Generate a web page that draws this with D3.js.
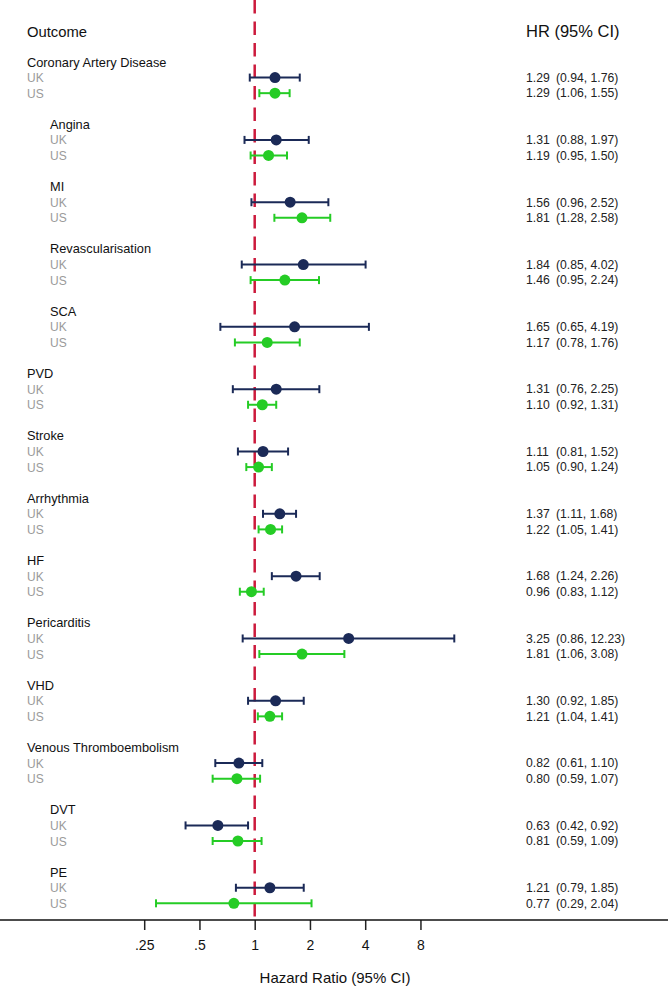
<!DOCTYPE html>
<html>
<head>
<meta charset="utf-8">
<script src="https://cdn.jsdelivr.net/npm/d3@7"></script>
<style>
html,body{margin:0;padding:0;background:#fff;}
svg{display:block;font-family:"Liberation Sans",Arial,sans-serif;}
</style>
</head>
<body>
<svg id="chart" width="669" height="989"></svg>
<script>
const outcomes = ["Coronary Artery Disease","Angina","MI","Revascularisation","SCA","PVD","Stroke","Arrhythmia","HF","Pericarditis","VHD","Venous Thromboembolism","DVT","PE"];
const indented = [false,true,true,true,true,false,false,false,false,false,false,false,true,true];
const ukHR  = [1.29,1.31,1.56,1.84,1.65,1.31,1.11,1.37,1.68,3.25,1.30,0.82,0.63,1.21];
const ukLo  = [0.94,0.88,0.96,0.85,0.65,0.76,0.81,1.11,1.24,0.86,0.92,0.61,0.42,0.79];
const ukHi  = [1.76,1.97,2.52,4.02,4.19,2.25,1.52,1.68,2.26,12.23,1.85,1.10,0.92,1.85];
const usHR  = [1.29,1.19,1.81,1.46,1.17,1.10,1.05,1.22,0.96,1.81,1.21,0.80,0.81,0.77];
const usLo  = [1.06,0.95,1.28,0.95,0.78,0.92,0.90,1.05,0.83,1.06,1.04,0.59,0.59,0.29];
const usHi  = [1.55,1.50,2.58,2.24,1.76,1.31,1.24,1.41,1.12,3.08,1.41,1.07,1.09,2.04];
const tickValues = [0.25,0.5,1,2,4,8];
const tickLabels = [".25",".5","1","2","4","8"];

const svg = d3.select("#chart");
const axisY = 920;
const navy = "#1b2a57", green = "#25cc25", red = "#cc1a3c";

const x = d3.scaleLog().base(2).domain([0.25, 1]).range([144.2, 254.7]);
const y = d3.scaleLinear().domain([0, 1]).range([62, 62 + 15.58]);

// Header
svg.append("text").attr("x", 27).attr("y", 37).attr("font-size", 14.8).attr("fill", "#111").text("Outcome");
svg.append("text").attr("x", 526).attr("y", 37).attr("font-size", 16.5).attr("fill", "#111").text("HR (95% CI)");

// reference line
svg.append("line")
  .attr("x1", x(1)).attr("x2", x(1)).attr("y1", 0).attr("y2", axisY)
  .attr("stroke", red).attr("stroke-width", 2.5).attr("stroke-dasharray", "13.5,8");

// data rows
const rows = [];
outcomes.forEach((o, i) => {
  rows.push({type: "label", text: o, idx: i, slot: i * 4});
  rows.push({type: "UK", idx: i, slot: i * 4 + 1, hr: ukHR[i], lo: ukLo[i], hi: ukHi[i], color: navy});
  rows.push({type: "US", idx: i, slot: i * 4 + 2, hr: usHR[i], lo: usLo[i], hi: usHi[i], color: green});
});

const f = d3.format(".2f");
const g = svg.append("g");
rows.forEach(r => {
  const lx = indented[r.idx] ? 50 : 27;
  const yy = y(r.slot);
  if (r.type === "label") {
    g.append("text").attr("x", lx).attr("y", yy + 4.5).attr("font-size", 12.8).attr("fill", "#111").text(r.text);
  } else {
    g.append("text").attr("x", lx).attr("y", yy + 4.5).attr("font-size", 12).attr("fill", "#9a9a9a").text(r.type);
    g.append("line").attr("x1", x(r.lo)).attr("x2", x(r.hi)).attr("y1", yy).attr("y2", yy)
      .attr("stroke", r.color).attr("stroke-width", 2);
    [r.lo, r.hi].forEach(v => {
      g.append("line").attr("x1", x(v)).attr("x2", x(v)).attr("y1", yy - 4).attr("y2", yy + 4)
        .attr("stroke", r.color).attr("stroke-width", 2);
    });
    g.append("circle").attr("cx", x(r.hr)).attr("cy", yy).attr("r", 5.5).attr("fill", r.color);
    g.append("text").attr("x", 526).attr("y", yy + 4.3).attr("font-size", 12.2).attr("fill", "#222").text(f(r.hr));
    g.append("text").attr("x", 556).attr("y", yy + 4.3).attr("font-size", 12.2).attr("fill", "#222")
      .text("(" + f(r.lo) + ", " + f(r.hi) + ")");
  }
});

// axis
const axis = d3.axisBottom(x).tickValues(tickValues).tickFormat((d, i) => tickLabels[i]).tickSize(10).tickPadding(10);
const ag = svg.append("g").attr("transform", `translate(0,${axisY})`).call(axis);
ag.select(".domain").remove();
ag.selectAll(".tick line").attr("stroke", "#222").attr("stroke-width", 1.5);
ag.selectAll(".tick text").attr("font-size", 14).attr("fill", "#111").attr("font-family", "Liberation Sans, Arial, sans-serif");
svg.append("line").attr("x1", 0).attr("x2", 668).attr("y1", axisY).attr("y2", axisY).attr("stroke", "#111").attr("stroke-width", 1.5);

svg.append("text").attr("x", 335).attr("y", 983).attr("text-anchor", "middle").attr("font-size", 15).attr("fill", "#111")
  .text("Hazard Ratio (95% CI)");
</script>
</body>
</html>
